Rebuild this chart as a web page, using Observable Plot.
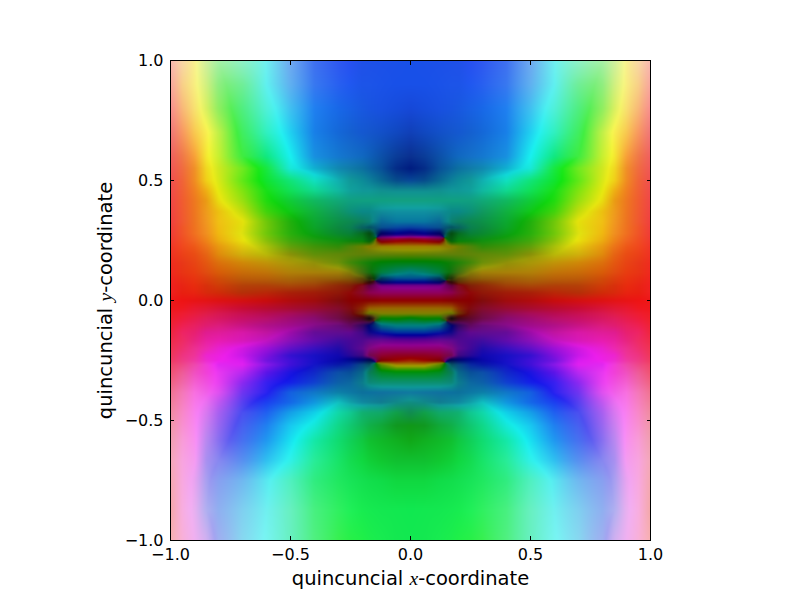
<!DOCTYPE html>
<html><head><meta charset="utf-8">
<script src="https://cdn.jsdelivr.net/npm/d3@7"></script>
<script src="https://cdn.jsdelivr.net/npm/@observablehq/plot@0.6"></script>
<style>html,body{margin:0;padding:0;background:#fff}svg{display:block}</style>
</head><body><div id="chart"></div>
<script>
const tickValues = [-1, -0.5, 0, 0.5, 1];
const xLabel = "quincuncial x-coordinate";
const yLabel = "quincuncial y-coordinate";
// Colours: |x| across (the image is mirrored about x = 0), y down.
const absX = [1,.95,.9,.85,.8,.7,.6,.5,.4,.3,.25,.2,.171,.121,.058,0];
const rowY = [1,.9,.8,.7,.6,.55,.5,.458,.417,.371,.329,.304,.279,.25,.225,.192,.158,.117,.092,.075,.0625,.033,0,-.033,-.054,-.075,-.104,-.133,-.167,-.2,-.229,-.25,-.267,-.3,-.342,-.383,-.425,-.467,-.521,-.583,-.667,-.75,-.875,-1];
const rowColors = `
f8b8b0 f8d8a8 f8f090 d0f0a0 a8f0a8 90f0c8 70eef0 70a8f0 4070f0 3058f0 2850f0 2050e8 1e50e8 1c50e8 1a50e8 1850e8
f8a8a0 f8d088 f8ee80 d0f080 90ee80 70ee98 60f0f0 60b0f0 3878f0 2860f0 2058f0 1c54e8 1c54e8 1a52e8 1850e8 1850e8
f89090 f8b878 f8e070 d8f060 90ee60 50ee80 50f0d8 40c0f0 2080f0 1868e8 1860e4 1858e0 1854e0 1850e0 164cdc 1648d8
f07878 f89860 f8c850 f8ee50 c0f048 40ee60 30f0c0 20d0f0 1880e8 1468d8 1460d0 1458d0 1456cc 1250c8 1048c0 1040b8
f06060 f07848 f8a038 f4e830 c8f030 40ec40 10e880 18f0f0 1890e0 1478d0 1470c8 1068c0 0e60b8 0c50a8 0a3c98 0a3090
f05858 f06c40 f09028 f0d820 d0e820 70ea20 18e840 18e8d8 10b0d0 1088b0 107ca8 0c70a0 0a64a0 085098 042c88 001c80
f05050 f06438 f08c22 f0d018 d8e818 60e818 10e430 10e478 10e0c0 10b0b0 109898 0c8c98 0c8098 086890 064c8c 084898
f04c4c f06034 f08020 eeb014 e4e810 80e410 18e018 10e058 10d890 10b8a0 10a09c 109898 109898 109090 108c90 108c90
f04848 f05c30 ee7820 ea9c14 e8dc10 98e010 20dc10 10cc38 10b860 10a878 10a080 10a080 10a080 10a080 12a080 12a080
f04444 f05a30 ee7620 ee9c1c ecc010 c0dc0c 40d40c 10c818 10b040 109860 0c9078 0a8888 0a8888 108c98 1090a0 1090a0
f04040 f05830 ee7420 f09820 f0c014 e4e00c 70c80a 20b00c 0ca830 0c9048 0c8850 0c8060 0c8070 0a6898 0878a0 0878a0
f03e3c f05628 ef7220 f09420 f0bc12 e0e00c 74c80a 26ae0c 0ca428 0c8840 0a8050 086060 045060 085090 0848a0 0840a0
f03c38 f05428 f07020 f09020 f0b810 dce010 70c80a 28b00c 0ca018 0a8830 088038 066c20 044c10 000060 000088 100080
f03a30 f04e22 f06420 ee8418 ecac10 e8e00c 88c00a 40a80c 209c10 109010 0c8410 088010 046010 800020 980010 900000
f03628 f0481e ee5818 ec7418 e89810 e0c80c a8c00a 60a00a 409408 308c08 508408 6c8000 807800 988000 a08000 a08000
f03224 ec4018 ea4c14 e66414 e08a0c d0b00c b8b808 889008 609008 608808 608408 608008 608008 608008 608004 608000
f02c20 e83818 e84414 e45810 dc700c d08808 c09408 a89808 909008 6c9008 408808 208408 108008 008008 008010 008010
f02820 e83414 e83c10 e04c10 d85c08 c86c08 c07408 b08008 a88008 a08008 807c08 407010 187010 008040 008068 008080
f02420 e82c14 e83410 dc3e0e d04c08 bc5c08 b86008 a86808 a06008 906008 805808 584808 203008 003858 004c90 005090
f02220 e82814 e8300f da380c d04408 b84c08 b05008 a85808 a05008 8c3c04 803804 602c04 300808 000068 000088 000088
f02020 e82414 e82c0e d8300c d03c08 b44008 b04008 a84808 a04008 902808 802008 800c20 600040 700080 700088 700088
f02020 e82010 e82410 d82a0c d02c08 b43008 b82808 a82008 a01c08 901808 900808 880830 8c0050 900060 900060 900060
ee1818 ee1414 e81414 e41414 de1212 d41010 c80c0c b00c0c a00c0c 800c0c 880000 880000 880000 900000 900000 900000
f0181c ee1820 e81830 e01834 d81438 c80c34 b80c30 a80c30 980c30 840c2c 800c10 8c2c00 986000 986800 986800 986800
f01c24 ee1c30 e81c3c e01c48 d81850 c81050 b80c50 a80c58 900c54 780c3c 700c18 703800 607000 808000 808000 808000
f02028 ee1c3c e81c4c e01c5c d81860 c81064 b81068 a00c70 880c70 700c48 60082c 400818 100808 008000 088000 008010
f02234 ee2050 e82060 e01c70 dc1c7c c81484 b01088 a00c8c 840c88 680c78 600860 300860 000870 006880 008080 008080
f0263c ee2464 e82070 e01c90 e01c98 d818a8 c014a0 9c0ca8 640c98 600c90 600890 400888 100888 0818a0 0030a0 0030a0
f02c48 ee2c64 e82480 e820a0 e81cb0 d818b8 c014c0 8810b8 600cac 400ca0 480898 500890 600890 680890 640090 600090
f03450 ee3070 ec3090 ec28b0 e820d0 d018e0 9c10d8 6010c8 3810c0 200ca8 400898 600890 800880 900070 900070 900070
f03858 ee3480 ee3498 ec24d0 ec20e0 c818e8 8010dc 3410d0 1810c4 1008b0 280898 400880 700850 900030 900020 900020
f03c60 ee3c84 ee38a4 ec2cd0 ec20e8 d81cf0 7014e0 4010d8 1810c8 0808a8 000c90 000c70 001050 800000 980800 a02000
f04868 ee4888 ee48ac f03cd8 e028f0 e020f0 8818e8 4010d8 1414c8 0818a8 0828a0 084880 085060 608800 a08000 a08000
f05470 ee5c98 f050c0 f040d8 e838f0 b828f0 5c14e8 1c14e0 1028c8 0c50a8 085098 086888 087c58 008c20 009010 009010
f06480 f068a8 f460d0 f050e0 e840f0 8c28f0 3820f0 1420e8 1040d0 0c60a8 0c68a0 0c7c8c 0c8878 0c9070 0c9070 0c9070
f07490 f478b8 f870e0 f060e8 e050f0 7034f0 2c24f0 1460e0 1078c8 0c80a8 0c78a4 0c709c 0c70a0 1070a0 1074a0 1078a0
f08098 f680c0 f878e8 e870f0 c058f0 5840f0 1c40f0 1468e8 1098e0 10c0c0 10a0a8 1088a0 108498 107c90 108888 108c80
f08ca0 f888c8 f880ee d878f0 a860f0 4c50f0 2060f0 14a0e8 10d0e8 10d8a8 10c890 10b070 10ac6c 10a868 10a048 108c50
f098a8 f890d0 f888f0 c880f0 9868f0 4860f0 2080f0 18c8f0 14e8d8 10d888 10c870 10b858 10b048 10a838 109820 109818
f0a0b0 f89cd8 f890f0 b888f0 8870f0 4870f0 2098f0 18e0f0 14e8a8 10dc70 10d058 10c840 10c030 10b828 10b020 10a818
f4a8b8 f8a4e0 f49cf0 a890f0 8888f0 5890f0 30c0f0 30f0e8 28ec98 18e468 14dc50 10d840 10d038 10c830 10c030 10c030
f4a8b0 f8a8e0 e8a4f0 a8a0f0 88a0f0 70b8f0 58e8f0 50f0c0 30ec80 20e860 18e458 14e050 12de4c 10dc48 10d840 10d840
f4a8a8 f8aee0 e8b0f0 b0b0f0 90b0f0 80d0f0 70f0f0 68f0c0 48f080 30f060 20f058 18ec50 16ea50 14e850 12e850 10e850
f8b0b0 f8b0d8 f0b0f0 d0b0f0 a0b0f0 88d8f0 78f4f0 68f0c0 50f080 38f050 28f048 20f048 1cee4c 18ec50 14e850 12e850
`.trim().split("\n").map(r => r.trim().split(/\s+/).map(h => {
  const n = parseInt(h, 16), c = d3.hsl(`#${h}`);
  const R = n >> 16, G = (n >> 8) & 255, B = n & 255;
  const v = Math.max(R, G, B), s = v ? (v - Math.min(R, G, B)) / v : 0;
  const a = (c.h || 0) * Math.PI / 180;
  return [Math.cos(a), Math.sin(a), s, v];
}));

// Smooth the colour table between its entries, around the hue circle, when painting the raster.
function bracket(list, v) {
  let i = 0;
  while (i < list.length - 2 && list[i + 1] > v) i++;
  const t = Math.min(1, Math.max(0, (list[i] - v) / (list[i] - list[i + 1])));
  return [i, t];
}
function colorAt(x, y) {
  const [c, u] = bracket(absX, Math.abs(x));
  const [r, w] = bracket(rowY, y);
  const a = rowColors[r], b = rowColors[r + 1];
  const m = [0, 1, 2, 3].map(k =>
    (a[c][k] * (1 - u) + a[c + 1][k] * u) * (1 - w) +
    (b[c][k] * (1 - u) + b[c + 1][k] * u) * w);
  const h = ((Math.atan2(m[1], m[0]) * 180 / Math.PI) + 360) % 360;
  const s = m[2], v = m[3];
  const f = (n) => {
    const k = (n + h / 60) % 6;
    return Math.round(v - v * s * Math.max(0, Math.min(k, 4 - k, 1)));
  };
  return `rgb(${f(5)},${f(3)},${f(1)})`;
}

const font = "'DejaVu Sans'";
const fmt = d3.format(".1f");
const noLabel = () => "";
const plot = Plot.plot({
  width: 800, height: 600,
  marginLeft: 170, marginRight: 150, marginTop: 60, marginBottom: 60,
  style: {fontFamily: font, fontSize: "16px", background: "#fff", color: "#000"},
  x: {domain: [-1, 1], label: null},
  y: {domain: [-1, 1], label: null},
  color: {type: "identity"},
  marks: [
    Plot.raster({fill: colorAt, x1: -1, x2: 1, y1: -1, y2: 1, pixelSize: 1}),
    Plot.frame({stroke: "#000", strokeWidth: 1}),
    Plot.axisX({anchor: "bottom", ticks: tickValues, tickSize: -4, tickPadding: 12, tickFormat: fmt, label: null}),
    Plot.axisX({anchor: "top", ticks: tickValues, tickSize: -4, tickFormat: noLabel, label: null}),
    Plot.axisY({anchor: "left", ticks: tickValues, tickSize: -4, tickPadding: 11, tickFormat: fmt, label: null}),
    Plot.axisY({anchor: "right", ticks: tickValues, tickSize: -4, tickFormat: noLabel, label: null}),
    Plot.text([xLabel], {text: d => d, frameAnchor: "bottom", dy: 44, fontSize: 19.5, className: "axlabel"}),
    Plot.text([yLabel], {text: d => d, frameAnchor: "left", textAnchor: "middle", dx: -65, rotate: -90, fontSize: 19.5, className: "axlabel"})
  ]
});
// Set the single math letter of each axis title in italic serif, as in the reference.
d3.select(plot).selectAll(".axlabel text").each(function () {
  const s = this.textContent, m = s.match(/^(.* )([xy])(-.*)$/);
  const sel = d3.select(this).text(null);
  sel.append("tspan").text(m[1]);
  sel.append("tspan").attr("font-family", "'Liberation Serif'").attr("font-style", "italic").text(m[2]);
  sel.append("tspan").text(m[3]);
});
document.getElementById("chart").append(plot);
</script></body></html>
